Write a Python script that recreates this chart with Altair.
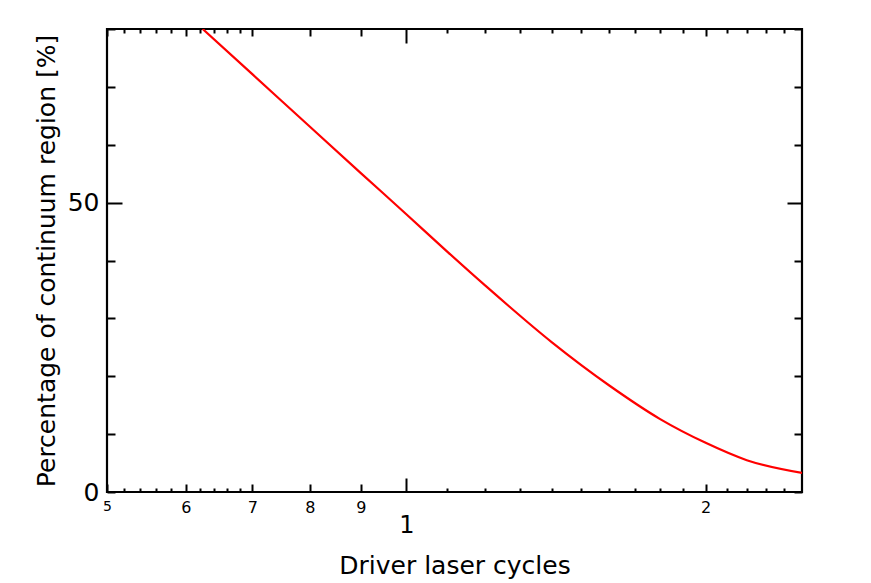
import altair as alt
import pandas as pd

# Curve
cycles = [0.624, 0.7, 0.8, 0.9, 1.0, 1.1, 1.2, 1.4, 1.6, 1.8, 2.0, 2.2, 2.5]
percent = [80.0, 72.2, 63.1, 55.1, 48.0, 41.5, 35.7, 25.9, 18.4, 12.6, 8.5, 5.5, 3.3]

x_label_values = [0.5, 0.6, 0.7, 0.8, 0.9, 1, 2]
x_tick_values = [0.5, 0.52, 0.54, 0.56, 0.58, 0.6, 0.62, 0.64, 0.66, 0.68, 0.7,
                 0.8, 0.9, 1, 1.1, 1.2, 1.3, 1.4, 1.5, 1.6, 1.7, 1.8, 1.9, 2,
                 2.1, 2.2, 2.3, 2.4]
x_medium = [0.5, 0.6, 0.7, 0.8, 0.9, 2]
y_label_values = [0, 50]
y_tick_values = [0, 10, 20, 30, 40, 50, 60, 70, 80]

df = pd.DataFrame({"cycles": cycles, "percent": percent})

W, H = 695, 463
FONT = "DejaVu Sans"

xscale = alt.Scale(type="log", domain=[0.5, 2.5], nice=False)
yscale = alt.Scale(domain=[0, 80], nice=False, zero=False)

medium_test = "indexof(" + str(x_medium) + ", datum.value) >= 0"

def x_tick_size(major, medium, minor):
    return {"condition": [{"test": "datum.value == 1", "value": major},
                          {"test": medium_test, "value": medium}],
            "value": minor}

y_tick_size = {"condition": {"test": "datum.value == 50", "value": 15}, "value": 8}

# Layer A: red curve with labels and titles
x_axis_labels = alt.Axis(
    values=x_label_values, orient="bottom", grid=False, domain=False, ticks=False,
    tickSize=0, labelFlush=False, labelFont=FONT, labelColor="black",
    labelExpr="datum.value < 1 ? format(datum.value*10, 'd') : format(datum.value, 'd')",
    labelFontSize={"condition": [{"test": "datum.value == 1", "value": 24},
                                 {"test": "datum.value == 0.5", "value": 14}],
                   "value": 16},
    labelPadding={"condition": {"test": "datum.value == 1", "value": 21}, "value": 7},
    labelBaseline="top",
    title="Driver laser cycles", titleFont=FONT, titleFontSize=25,
    titleFontWeight="normal", titleColor="black", titleY=81,
    titleBaseline="alphabetic",
)
y_axis_labels = alt.Axis(
    values=y_label_values, orient="left", grid=False, domain=False, ticks=False,
    tickSize=0, labelFlush=False, labelFont=FONT, labelFontSize=25,
    labelColor="black", labelPadding=8,
    title="Percentage of continuum region [%]", titleFont=FONT, titleFontSize=25,
    titleFontWeight="normal", titleColor="black", titleX=-53,
    titleBaseline="alphabetic",
)

line = alt.Chart(df).mark_line(color="#ff0000", strokeWidth=2.2, clip=True,
                               interpolate="monotone").encode(
    x=alt.X("cycles:Q", scale=xscale, axis=x_axis_labels),
    y=alt.Y("percent:Q", scale=yscale, axis=y_axis_labels),
)

# Layer B: inward ticks on bottom and left edges
ticks_b = alt.Chart(df).mark_line(strokeOpacity=0).encode(
    x=alt.X("cycles:Q", scale=xscale, axis=alt.Axis(
        values=x_tick_values, orient="top", offset=-H, grid=False, domain=False,
        labels=False, title=None, tickColor="black", tickWidth=2,
        tickSize=x_tick_size(14, 8, 4))),
    y=alt.Y("percent:Q", scale=yscale, axis=alt.Axis(
        values=y_tick_values, orient="right", offset=-W, grid=False, domain=False,
        labels=False, title=None, tickColor="black", tickWidth=2,
        tickSize=y_tick_size)),
)

# Layer C: inward ticks on top and right edges
ticks_c = alt.Chart(df).mark_line(strokeOpacity=0).encode(
    x=alt.X("cycles:Q", scale=xscale, axis=alt.Axis(
        values=x_tick_values, orient="bottom", offset=-H, grid=False, domain=False,
        labels=False, title=None, tickColor="black", tickWidth=2,
        tickSize=x_tick_size(14, 7, 4))),
    y=alt.Y("percent:Q", scale=yscale, axis=alt.Axis(
        values=y_tick_values, orient="left", offset=-W, grid=False, domain=False,
        labels=False, title=None, tickColor="black", tickWidth=2,
        tickSize=y_tick_size)),
)

chart = alt.layer(ticks_b, ticks_c, line).resolve_axis(
    x="independent", y="independent"
).properties(
    width=W, height=H,
    autosize=alt.AutoSizeParams(type="none"),
    padding={"left": 99, "top": 21, "right": 61, "bottom": 91},
    background="white",
).configure_view(
    stroke="black", strokeWidth=2.2
)

chart.save("out.html", embed_options={"renderer": "svg", "actions": False})
